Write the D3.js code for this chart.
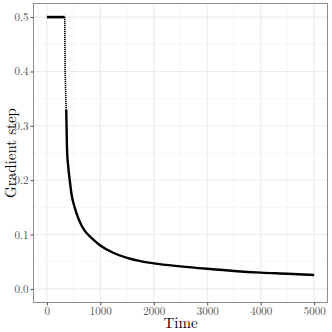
<html>
<head>
  <script src="https://d3js.org/d3.v7.min.js"></script>
  <style>
    body { margin: 0; background: #fff; }
    text { font-family: "Latin Modern Roman", "CMU Serif", "Liberation Serif", serif; }
    .tick text { fill: #4d4d4d; font-size: 11px; }
    .tick line { stroke: #4d4d4d; }
  </style>
</head>
<body>
<script>
// step size
var time = [0, 335, 337, 342, 352, 362, 377, 400, 428, 460, 520, 600, 700, 800, 900, 1000,
            1250, 1500, 1750, 2000, 2500, 3000, 3500, 4000, 4500, 5000];
var step = [0.5, 0.5, 0.46, 0.40, 0.36, 0.33, 0.256, 0.225, 0.20, 0.175, 0.15, 0.127, 0.108,
            0.097, 0.088, 0.080, 0.066, 0.057, 0.051, 0.047, 0.0415, 0.037, 0.033, 0.030, 0.028, 0.0256];
var xTicks = [0, 1000, 2000, 3000, 4000, 5000];
var yTicks = [0.0, 0.1, 0.2, 0.3, 0.4, 0.5];

var width = 332, height = 332;
var pLeft = 33.5, pRight = 327.5, pTop = 3.5, pBottom = 302.5;

var svg = d3.select("body").append("svg")
  .attr("width", width).attr("height", height);

var x = d3.scaleLinear().domain([-250, 5250]).range([pLeft, pRight]);
var y = d3.scaleLinear().domain([-0.025, 0.525]).range([pBottom, pTop]);

var grid = svg.append("g");
var xMinor = d3.range(500, 5000, 1000);
var yMinor = d3.range(0.05, 0.5, 0.1);

grid.selectAll(".xm").data(xMinor).enter().append("line")
  .attr("x1", d => x(d)).attr("x2", d => x(d))
  .attr("y1", pTop).attr("y2", pBottom)
  .attr("stroke", "#f2f2f2").attr("stroke-width", 0.6);
grid.selectAll(".ym").data(yMinor).enter().append("line")
  .attr("y1", d => y(d)).attr("y2", d => y(d))
  .attr("x1", pLeft).attr("x2", pRight)
  .attr("stroke", "#f2f2f2").attr("stroke-width", 0.6);
grid.selectAll(".xM").data(xTicks).enter().append("line")
  .attr("x1", d => x(d)).attr("x2", d => x(d))
  .attr("y1", pTop).attr("y2", pBottom)
  .attr("stroke", "#ebebeb").attr("stroke-width", 1.1);
grid.selectAll(".yM").data(yTicks).enter().append("line")
  .attr("y1", d => y(d)).attr("y2", d => y(d))
  .attr("x1", pLeft).attr("x2", pRight)
  .attr("stroke", "#ebebeb").attr("stroke-width", 1.1);

// flat part
var flatLine = d3.line()
  .x((d, i) => x(time[i]))
  .y(d => y(d));
svg.append("path")
  .attr("d", flatLine(step.slice(0, 2)))
  .attr("fill", "none").attr("stroke", "black").attr("stroke-width", 2.6);

// the steep drop looks dotted in the picture
var dropLine = d3.line()
  .x((d, i) => x(time[i + 1]))
  .y(d => y(d));
svg.append("path")
  .attr("d", dropLine(step.slice(1, 6)))
  .attr("fill", "none").attr("stroke", "black").attr("stroke-width", 1.6)
  .attr("stroke-dasharray", "1.2,0.8");

var curveLine = d3.line()
  .x((d, i) => x(time[i + 5]))
  .y(d => y(d))
  .curve(d3.curveMonotoneX);
svg.append("path")
  .attr("d", curveLine(step.slice(5)))
  .attr("fill", "none").attr("stroke", "black").attr("stroke-width", 2.4);

svg.append("rect")
  .attr("x", pLeft).attr("y", pTop)
  .attr("width", pRight - pLeft).attr("height", pBottom - pTop)
  .attr("fill", "none").attr("stroke", "#8c8c8c").attr("stroke-width", 1);

var xAxis = svg.append("g")
  .attr("transform", "translate(0," + pBottom + ")")
  .call(d3.axisBottom(x).tickValues(xTicks).tickSize(3).tickPadding(2).tickFormat(d3.format("d")));
xAxis.select(".domain").remove();

var yAxis = svg.append("g")
  .attr("transform", "translate(" + pLeft + ",0)")
  .call(d3.axisLeft(y).tickValues(yTicks).tickSize(3).tickPadding(2).tickFormat(d3.format(".1f")));
yAxis.select(".domain").remove();

svg.append("text")
  .attr("x", (pLeft + pRight) / 2).attr("y", 328)
  .attr("text-anchor", "middle")
  .attr("font-size", "15px")
  .text("Time");

svg.append("text")
  .attr("transform", "translate(16," + ((pTop + pBottom) / 2) + ") rotate(-90)")
  .attr("text-anchor", "middle")
  .attr("font-size", "15px")
  .text("Gradient step");
</script>
</body>
</html>
